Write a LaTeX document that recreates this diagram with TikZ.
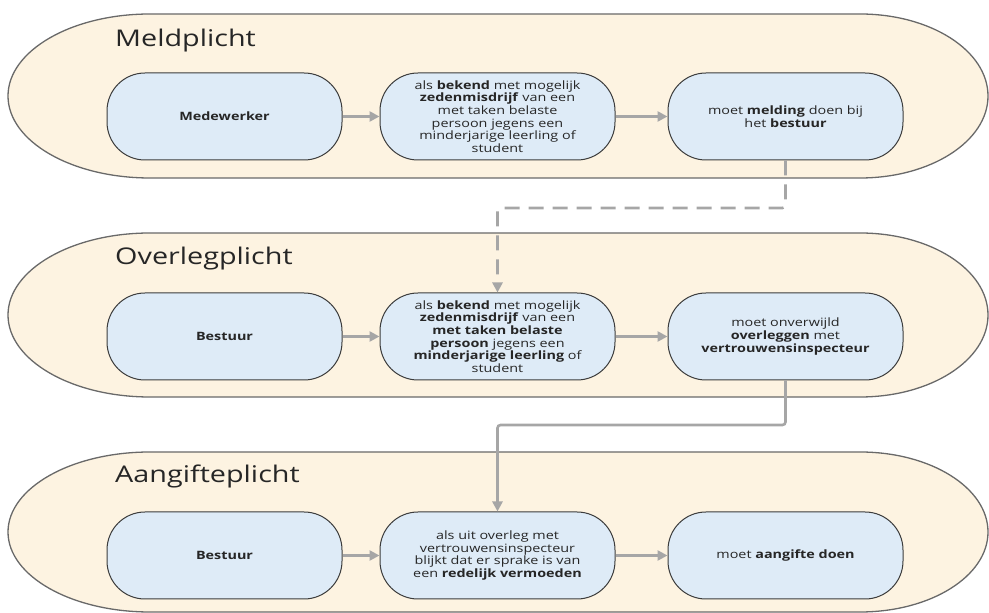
\documentclass[tikz,border=0pt]{standalone}
\usepackage{fontspec}
\setmainfont{Open Sans}[FakeStretch=1.25]
\usetikzlibrary{arrows.meta,calc}
\definecolor{cream}{RGB}{253,243,225}
\definecolor{lanebd}{RGB}{105,105,105}
\definecolor{boxfill}{RGB}{222,235,247}
\definecolor{boxbd}{RGB}{60,60,60}
\definecolor{arrgray}{RGB}{166,166,166}
\tikzset{
  lane/.style={fill=cream,draw=lanebd,line width=1.3pt},
  lanetitle/.style={anchor=base west,inner sep=0pt,font=\fontsize{23}{26}\selectfont,text=black!85},
  stepbox/.style={draw=boxbd,fill=boxfill,line width=1pt,rectangle,rounded corners=38pt,
    minimum width=235pt,minimum height=87pt,align=center,inner sep=2pt,
    font=\fontsize{11.5}{12.7}\selectfont,text=black!85},
  arr/.style={draw=arrgray,line width=2.6pt,-{Triangle[length=10pt,width=10pt]}},
  dasharr/.style={arr,dash pattern=on 15pt off 9pt},
}
\begin{document}
\begin{tikzpicture}[x=1pt,y=1pt]
\useasboundingbox (0,0) rectangle (989,613);
% lanes
\path[lane] (150,599) -- (860,599) arc[start angle=90,end angle=-90,x radius=128,y radius=82] -- (150,435) arc[start angle=270,end angle=90,x radius=142,y radius=82] -- cycle;
\path[lane] (150,380) -- (860,380) arc[start angle=90,end angle=-90,x radius=128,y radius=82] -- (150,216) arc[start angle=270,end angle=90,x radius=142,y radius=82] -- cycle;
\path[lane] (150,161) -- (860,161) arc[start angle=90,end angle=-90,x radius=128,y radius=80] -- (150,1) arc[start angle=270,end angle=90,x radius=142,y radius=80] -- cycle;
% titles
\node[lanetitle] (t1) at (115,566) {Meldplicht};
\node[lanetitle] (t2) at (115,348) {Overlegplicht};
\node[lanetitle] (t3) at (115,130) {Aangifteplicht};
% row 1
\node[stepbox] (b11) at (224.5,496.5) {\textbf{Medewerker}};
\node[stepbox] (b12) at (497.5,496.5) {als \textbf{bekend} met mogelijk\\\textbf{zedenmisdrijf} van een\\met taken belaste\\persoon jegens een\\minderjarige leerling of\\student};
\node[stepbox] (b13) at (785.5,496.5) {moet \textbf{melding} doen bij\\het \textbf{bestuur}};
% row 2
\node[stepbox] (b21) at (224.5,276.5) {\textbf{Bestuur}};
\node[stepbox] (b22) at (497.5,276.5) {als \textbf{bekend} met mogelijk\\\textbf{zedenmisdrijf} van een\\\textbf{met taken belaste}\\\textbf{persoon} jegens een\\\textbf{minderjarige leerling} of\\student};
\node[stepbox] (b23) at (785.5,276.5) {moet onverwijld\\\textbf{overleggen} met\\\textbf{vertrouwensinspecteur}};
% row 3
\node[stepbox] (b31) at (224.5,57.5) {\textbf{Bestuur}};
\node[stepbox] (b32) at (497.5,57.5) {als uit overleg met\\vertrouwensinspecteur\\blijkt dat er sprake is van\\een \textbf{redelijk vermoeden}};
\node[stepbox] (b33) at (785.5,57.5) {moet \textbf{aangifte doen}};
% arrows in rows
\draw[arr] (b11) -- (b12);
\draw[arr] (b12) -- (b13);
\draw[arr] (b21) -- (b22);
\draw[arr] (b22) -- (b23);
\draw[arr] (b31) -- (b32);
\draw[arr] (b32) -- (b33);
% connectors between lanes
\coordinate (j1) at (b22.north |- 0,405);
\coordinate (j2) at (b32.north |- 0,188);
\draw[dasharr,rounded corners=3pt] (b13.south) |- (j1) -- (b22.north);
\draw[arr,rounded corners=3pt] (b23.south) |- (j2) -- (b32.north);
\end{tikzpicture}
\end{document}
